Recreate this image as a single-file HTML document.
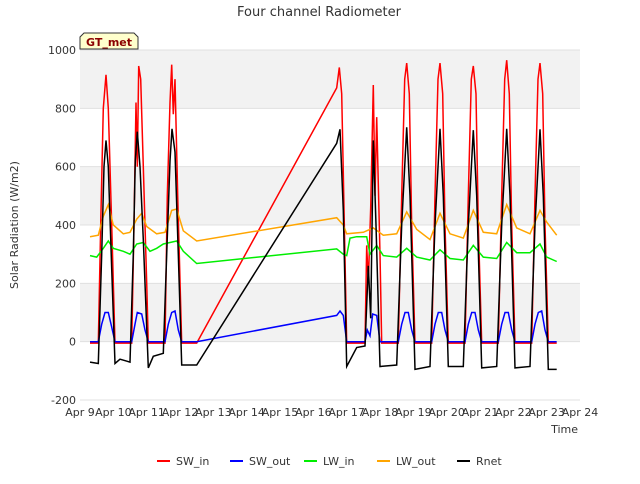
<!DOCTYPE html>
<html><head><meta charset="utf-8"><style>
body{margin:0;background:#fff;font-family:"DejaVu Sans","Liberation Sans",sans-serif;}
svg text{font-family:"DejaVu Sans","Liberation Sans",sans-serif;}
</style></head><body>
<svg id="chart" width="640" height="480" xmlns="http://www.w3.org/2000/svg">
<text x="319" y="16" text-anchor="middle" font-size="13" fill="#333">Four channel Radiometer</text>
<g id="bands"></g>
<g id="grid"></g>
<g id="series"></g>
<g id="axes"></g>
<path d="M80,49 L80,37 L84,33 L134,33 L138,37 L138,49 Z" fill="#ffffcc" stroke="#333" stroke-width="1"/>
<text x="109" y="46" text-anchor="middle" font-size="11" font-weight="bold" fill="#8b0000">GT_met</text>
<text x="18" y="225" transform="rotate(-90 18 225)" text-anchor="middle" font-size="11" fill="#333">Solar Radiation (W/m2)</text>
<text x="578" y="433" text-anchor="end" font-size="11" fill="#333">Time</text>
<g id="legend"></g>
</svg>
<script>
const yTicks=[-200,0,200,400,600,800,1000];
const xTickLabels=["Apr 9","Apr 10","Apr 11","Apr 12","Apr 13","Apr 14","Apr 15","Apr 16","Apr 17","Apr 18","Apr 19","Apr 20","Apr 21","Apr 22","Apr 23","Apr 24"];
const seriesNames=["SW_in","SW_out","LW_in","LW_out","Rnet"];
const seriesColors=["#ff0000","#0000ff","#00ee00","#ffa500","#000000"];
// [day offset from Apr 9, value]
const swIn=[[0.3,-5],[0.55,-5],[0.62,400],[0.7,800],[0.78,915],[0.85,800],[0.95,400],[1.05,-5],[1.55,-5],[1.62,400],[1.68,820],[1.72,600],[1.76,945],[1.82,900],[1.9,600],[2.0,200],[2.05,-5],[2.55,-5],[2.62,500],[2.7,820],[2.75,950],[2.8,780],[2.85,900],[2.93,500],[3.05,-5],[3.5,-5],[7.7,870],[7.78,940],[7.85,850],[8.0,-5],[8.55,-5],[8.6,330],[8.65,200],[8.72,460],[8.8,880],[8.85,500],[8.9,770],[9.0,300],[9.05,-5],[9.55,-5],[9.65,500],[9.74,900],[9.8,955],[9.88,850],[9.95,400],[10.05,-5],[10.55,-5],[10.65,500],[10.74,900],[10.8,955],[10.88,850],[10.95,400],[11.05,-5],[11.55,-5],[11.65,500],[11.74,900],[11.8,945],[11.88,850],[11.95,400],[12.05,-5],[12.55,-5],[12.65,500],[12.74,900],[12.8,965],[12.88,850],[12.95,400],[13.05,-5],[13.55,-5],[13.65,500],[13.74,900],[13.8,955],[13.88,850],[13.95,400],[14.05,-5],[14.3,-5]];
const swOut=[[0.3,0],[0.55,0],[0.65,60],[0.75,100],[0.85,100],[0.95,50],[1.05,0],[1.55,0],[1.65,60],[1.72,100],[1.85,95],[1.95,40],[2.05,0],[2.55,0],[2.65,60],[2.75,100],[2.85,105],[2.95,40],[3.05,0],[3.5,0],[7.7,90],[7.8,105],[7.9,90],[8.0,0],[8.55,0],[8.62,40],[8.7,20],[8.78,95],[8.9,90],[9.0,0],[9.55,0],[9.65,60],[9.75,100],[9.85,100],[9.95,40],[10.05,0],[10.55,0],[10.65,60],[10.75,100],[10.85,100],[10.95,40],[11.05,0],[11.55,0],[11.65,60],[11.75,100],[11.85,100],[11.95,40],[12.05,0],[12.55,0],[12.65,60],[12.75,100],[12.85,100],[12.95,40],[13.05,0],[13.55,0],[13.65,60],[13.75,100],[13.85,105],[13.95,40],[14.05,0],[14.3,0]];
const lwIn=[[0.3,295],[0.5,290],[0.7,320],[0.85,345],[1.0,320],[1.3,310],[1.5,300],[1.7,335],[1.9,340],[2.1,310],[2.3,320],[2.5,335],[2.7,340],[2.9,345],[3.1,310],[3.5,268],[7.7,318],[7.9,300],[8.0,295],[8.1,355],[8.3,360],[8.6,360],[8.7,300],[8.9,330],[9.1,295],[9.5,290],[9.8,320],[10.1,290],[10.5,280],[10.8,315],[11.1,285],[11.5,280],[11.8,330],[12.1,290],[12.5,285],[12.8,340],[13.1,305],[13.5,305],[13.8,335],[14.0,290],[14.3,275]];
const lwOut=[[0.3,360],[0.55,365],[0.7,430],[0.85,470],[1.0,400],[1.3,370],[1.5,375],[1.7,420],[1.85,440],[2.0,395],[2.3,370],[2.55,375],[2.75,450],[2.9,455],[3.1,380],[3.5,345],[7.7,425],[7.9,400],[8.0,370],[8.5,375],[8.8,390],[9.1,365],[9.5,370],[9.8,445],[10.1,385],[10.5,350],[10.8,440],[11.1,370],[11.5,355],[11.8,450],[12.1,375],[12.5,370],[12.8,470],[13.1,390],[13.5,370],[13.8,450],[14.0,410],[14.3,365]];
const rnet=[[0.3,-70],[0.55,-75],[0.65,300],[0.72,600],[0.78,690],[0.85,600],[0.95,250],[1.05,-75],[1.2,-60],[1.5,-70],[1.6,300],[1.66,620],[1.72,720],[1.8,600],[1.9,350],[2.0,50],[2.05,-90],[2.2,-50],[2.5,-40],[2.6,300],[2.7,620],[2.76,730],[2.85,650],[2.95,300],[3.05,-80],[3.5,-80],[7.7,680],[7.8,728],[7.9,450],[8.0,-85],[8.3,-20],[8.55,-15],[8.65,260],[8.72,80],[8.8,690],[8.88,400],[9.0,-85],[9.5,-80],[9.65,400],[9.8,735],[9.9,500],[10.05,-95],[10.5,-85],[10.65,400],[10.8,730],[10.9,500],[11.05,-85],[11.5,-85],[11.65,400],[11.8,725],[11.9,500],[12.05,-90],[12.5,-85],[12.65,400],[12.8,730],[12.9,500],[13.05,-90],[13.5,-85],[13.65,400],[13.8,728],[13.9,500],[14.05,-95],[14.3,-95]];
const allSeries=[swIn,swOut,lwIn,lwOut,rnet];

const L=80,R=580,T=50,B=400,ymin=-200,ymax=1000,days=15;
const sx=d=>L+d*(R-L)/days;
const sy=v=>B-(v-ymin)*(B-T)/(ymax-ymin);
const NS="http://www.w3.org/2000/svg";
function mk(tag,parent){const e=document.createElementNS(NS,tag);document.getElementById(parent).appendChild(e);return e;}

for(let i=0;i<yTicks.length-1;i++){
  if(i%2===1){const r=mk('rect','bands');
    
    
    r.setAttribute('x',L);r.setAttribute('y',sy(yTicks[i+1]));r.setAttribute('width',R-L);r.setAttribute('height',sy(yTicks[i])-sy(yTicks[i+1]));r.setAttribute('fill','#f2f2f2');}
}
yTicks.forEach(v=>{
  const l=mk('line','grid');
  
  
  l.setAttribute('x1',L);l.setAttribute('x2',R);l.setAttribute('y1',sy(v));l.setAttribute('y2',sy(v));l.setAttribute('stroke','#e0e0e0');
  const t=mk('text','axes');
  
  
  t.setAttribute('x',L-4);t.setAttribute('y',sy(v)+4);t.setAttribute('text-anchor','end');t.setAttribute('font-size','11');t.setAttribute('fill','#333');t.textContent=v;
});
xTickLabels.forEach((s,i)=>{
  const t=mk('text','axes');
  
  
  t.setAttribute('x',sx(i));t.setAttribute('y',416);t.setAttribute('text-anchor','middle');t.setAttribute('font-size','11');t.setAttribute('fill','#333');t.textContent=s;
});
allSeries.forEach((pts,k)=>{
  const p=mk('polyline','series');
  
  
  p.setAttribute('points',pts.map(q=>sx(q[0]).toFixed(1)+','+sy(q[1]).toFixed(1)).join(' '));
  p.setAttribute('fill','none');p.setAttribute('stroke',seriesColors[k]);p.setAttribute('stroke-width','1.5');
});
const legX=[157,230,304,377,457];
seriesNames.forEach((n,k)=>{
  const l=mk('line','legend');
  
  
  l.setAttribute('x1',legX[k]);l.setAttribute('x2',legX[k]+13);l.setAttribute('y1',461);l.setAttribute('y2',461);l.setAttribute('stroke',seriesColors[k]);l.setAttribute('stroke-width','2');
  const t=mk('text','legend');
  
  
  t.setAttribute('x',legX[k]+19);t.setAttribute('y',465);t.setAttribute('font-size','11');t.setAttribute('fill','#333');t.textContent=n;
});
</script>
</body></html>
